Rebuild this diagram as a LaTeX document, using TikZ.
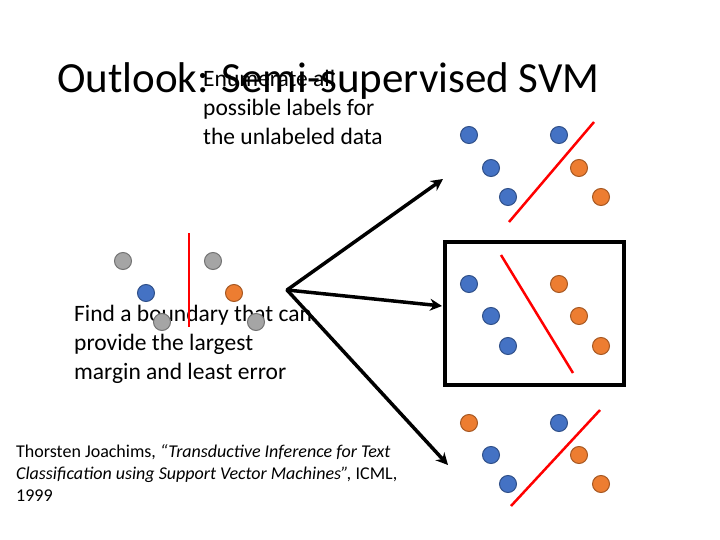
\documentclass[tikz,border=0pt]{standalone}
\usepackage{fontspec}
\usetikzlibrary{arrows.meta}
\setmainfont{Carlito}
\definecolor{cb}{HTML}{4472C4}
\definecolor{co}{HTML}{ED7D31}
\definecolor{cg}{HTML}{A5A5A5}
\begin{document}
\begin{tikzpicture}[x=1pt,y=-1pt,
  dot/.style={circle,draw=#1!70!black,fill=#1,line width=1pt,minimum size=17pt,inner sep=0pt},
  sep/.style={draw=red,line width=2.5pt},
  arr/.style={draw=black,line width=3.5pt,-{Stealth[length=12pt,width=12pt]}},
  txt/.style={anchor=base west,font=\fontsize{23.5}{29}\selectfont,align=left,inner sep=0pt}]
\clip (0,0) rectangle (720,540);
\useasboundingbox (0,0) rectangle (720,540);
\node[anchor=base west,inner sep=0pt,font=\fontsize{43}{50}\selectfont] (title) at (57,93) {Outlook: Semi-supervised SVM};
\node[txt] (t1) at (203,145) {Enumerate all\\possible labels for\\the unlabeled data};
\node[txt] (t2) at (74,379) {Find a boundary that can\\provide the largest\\margin and least error};
\node[anchor=base west,inner sep=0pt,align=left,font=\fontsize{18}{22}\selectfont] (ref) at (16,501)
 {Thorsten Joachims, \textit{``Transductive Inference for Text}\\\textit{Classification using Support Vector Machines'',} ICML,\\1999};
% left group
\node[dot=cg] (l1) at (123,261) {}; \node[dot=cg] (l2) at (213,261) {};
\node[dot=cg] (l3) at (162,322) {}; \node[dot=cg] (l4) at (256,322) {};
\node[dot=cb] (l5) at (146,293) {}; \node[dot=co] (l6) at (234,293) {};
\coordinate (ls1) at (189,233); \coordinate (ls2) at (189,327);
\draw[sep] (ls1) -- (ls2);
% top right
\node[dot=cb] (a1) at (469,135) {}; \node[dot=cb] (a2) at (559,135) {};
\node[dot=cb] (a3) at (491,168) {}; \node[dot=cb] (a4) at (508,197) {};
\node[dot=co] (a5) at (579,168) {}; \node[dot=co] (a6) at (601,197) {};
\coordinate (as1) at (594,122); \coordinate (as2) at (509,222);
\draw[sep] (as1) -- (as2);
% middle
\draw[line width=4pt] (445,242) rectangle (624,385);
\node[dot=cb] (b1) at (469,284) {}; \node[dot=co] (b2) at (559,284) {};
\node[dot=cb] (b3) at (491,316) {}; \node[dot=cb] (b4) at (508,346) {};
\node[dot=co] (b5) at (579,316) {}; \node[dot=co] (b6) at (601,346) {};
\coordinate (bs1) at (501,255); \coordinate (bs2) at (573,373);
\draw[sep] (bs1) -- (bs2);
% bottom
\node[dot=co] (c1) at (469,423) {}; \node[dot=cb] (c2) at (559,423) {};
\node[dot=cb] (c3) at (491,455) {}; \node[dot=cb] (c4) at (508,484) {};
\node[dot=co] (c5) at (579,455) {}; \node[dot=co] (c6) at (601,484) {};
\coordinate (cs1) at (600,410); \coordinate (cs2) at (511,506);
\draw[sep] (cs1) -- (cs2);
% arrows
\coordinate (o) at (287,290);
\coordinate (e1) at (443,179); \coordinate (e2) at (442,306); \coordinate (e3) at (448,465);
\draw[arr,line cap=round] (o) -- (e1);
\draw[arr] (o) -- (e2);
\draw[arr] (o) -- (e3);
\end{tikzpicture}
\end{document}
